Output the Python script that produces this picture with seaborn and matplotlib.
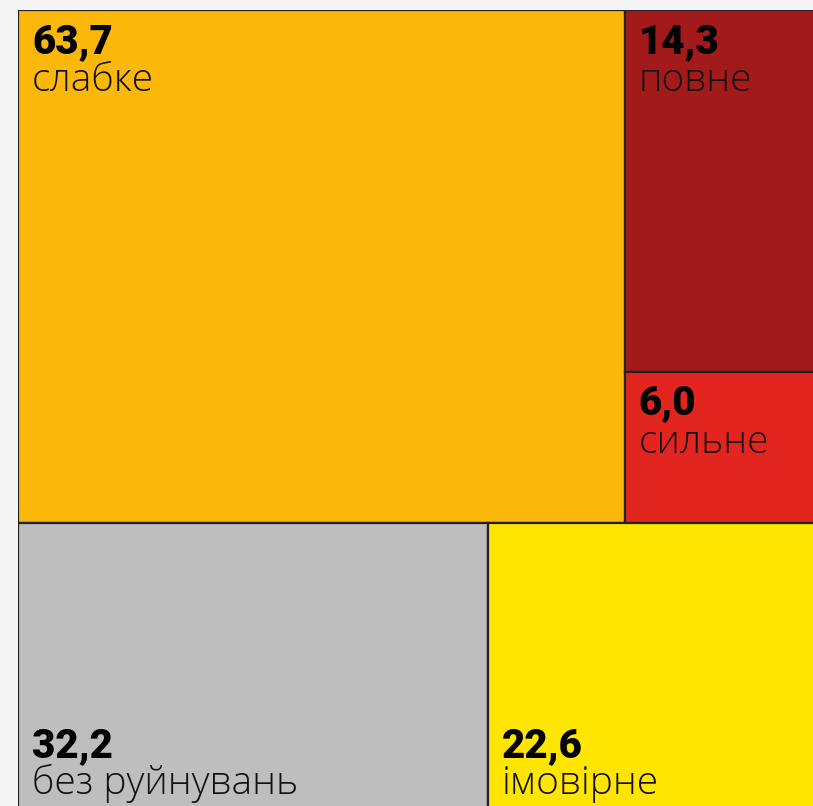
import matplotlib
matplotlib.use("Agg")
import matplotlib.pyplot as plt
import seaborn as sns

# дані
labels = ['слабке', 'повне', 'сильне', 'без руйнувань', 'імовірне']
values = [63.7, 14.3, 6.0, 32.2, 22.6]
colors = ['#FBB80A', '#A21A1A', '#E32520', '#BEBEBE', '#FFE500']

sns.set_theme(style='white')
plt.rcParams['font.family'] = ['Roboto', 'DejaVu Sans']

fig = plt.figure(figsize=(8.13, 8.06), dpi=100)
fig.patch.set_facecolor('#F4F4F4')

# полотно трімепу виходить за межі картинки праворуч і знизу
ax = fig.add_axes([18 / 813, 1 - 10 / 806 - 848 / 806, 800 / 813, 848 / 806])

total = sum(values)
top_sum = values[0] + values[1] + values[2]
bot_sum = values[3] + values[4]
top_h = top_sum / total
bot_h = bot_sum / total

# розкладка: верхній ряд (слабке | повне / сильне), нижній ряд (без руйнувань | імовірне)
w0 = values[0] / top_sum
col_w = 1 - w0
h1 = top_h * values[1] / (values[1] + values[2])
h2 = top_h - h1
w3 = values[3] / bot_sum

rects = [
    (0, bot_h, w0, top_h),
    (w0, bot_h + h2, col_w, h1),
    (w0, bot_h, col_w, h2),
    (0, 0, w3, bot_h),
    (w3, 0, 1 - w3, bot_h),
]

for (x, y, w, h), c in zip(rects, colors):
    ax.bar(x, h, width=w, bottom=y, align='edge', color=c,
           edgecolor='#222222', linewidth=1.6)

lab_font = dict(family=['Open Sans', 'DejaVu Sans'], fontsize=28, fontweight='light', color='#111111')
num_font = dict(family=['Roboto', 'DejaVu Sans'], fontsize=29, fontweight='black', color='black')

for i, ((x, y, w, h), lab, v) in enumerate(zip(rects, labels, values)):
    num = f'{v:.1f}'.replace('.', ',')
    if i < 3:
        ax.annotate(num, (x, y + h), xytext=(14, -43), textcoords='offset pixels',
                    va='baseline', **num_font)
        ax.annotate(lab, (x, y + h), xytext=(14, -81), textcoords='offset pixels',
                    va='baseline', **lab_font)
    else:
        ax.annotate(num, (x, y), xytext=(14, 101), textcoords='offset pixels',
                    va='baseline', **num_font)
        ax.annotate(lab, (x, y), xytext=(14, 64), textcoords='offset pixels',
                    va='baseline', **lab_font)

ax.set_xlim(0, 1)
ax.set_ylim(0, 1)
ax.axis('off')

fig.savefig('out.png', dpi=100, facecolor=fig.get_facecolor())
